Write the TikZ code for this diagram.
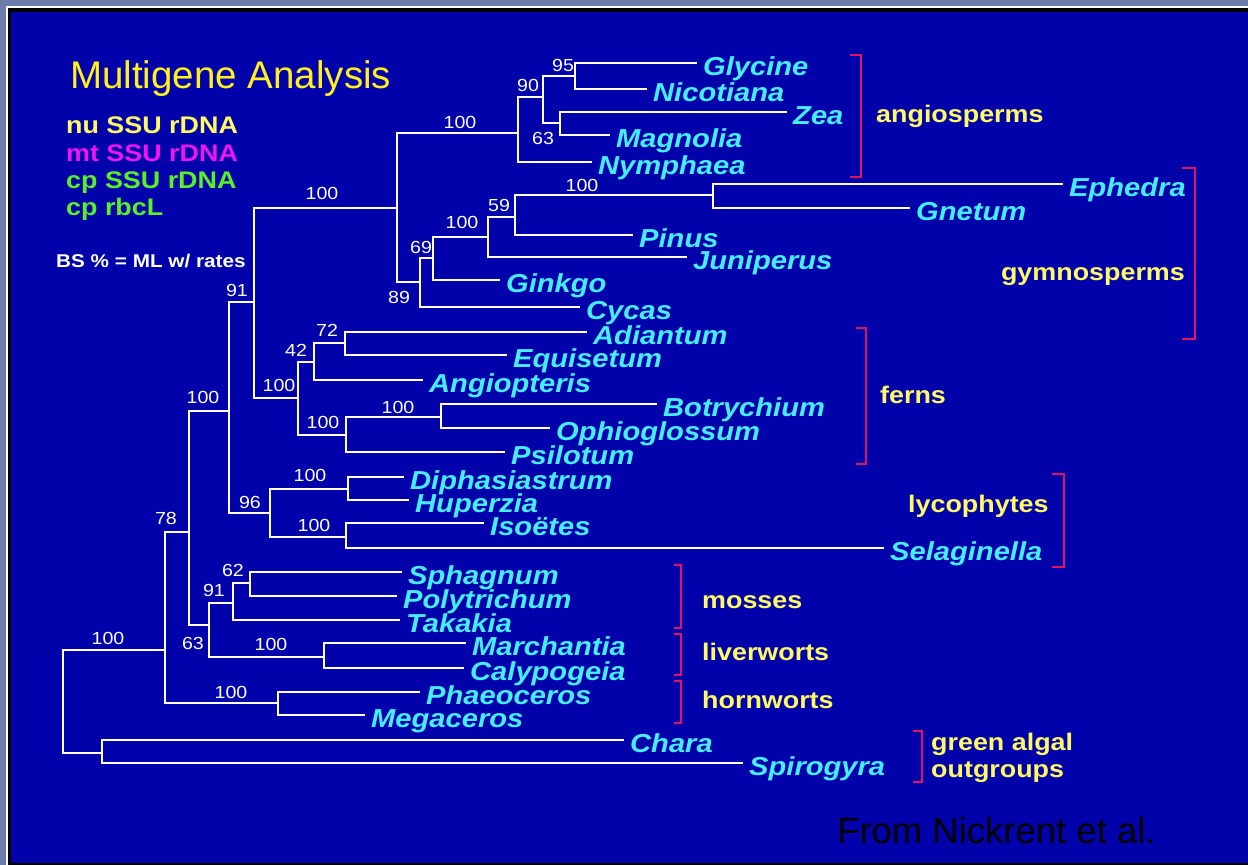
\documentclass[tikz,border=0pt]{standalone}
\usepackage{fontspec}
\setmainfont{Liberation Sans}
\newfontfamily\hv[FakeStretch=1.12]{Liberation Sans}
\definecolor{bgblue}{RGB}{2,2,170}
\definecolor{frameblue}{RGB}{108,124,172}
\definecolor{taxcyan}{RGB}{70,236,255}
\definecolor{grpyellow}{RGB}{255,250,100}
\definecolor{titleyellow}{RGB}{255,240,30}
\definecolor{mtmag}{RGB}{240,20,240}
\definecolor{cpgreen}{RGB}{90,240,40}
\definecolor{brred}{RGB}{225,20,95}
\begin{document}
\begin{tikzpicture}[x=1pt,y=-1pt,
  branch/.style={draw=white,line width=2.7pt},
  bracket/.style={draw=brred,line width=2.6pt},
  taxon/.style={anchor=west,inner xsep=6pt,inner ysep=0pt,text height=24pt,text depth=0pt,text=taxcyan,font=\hv\fontsize{26}{26}\selectfont\bfseries\itshape},
  bs/.style={inner sep=0pt,text=white,font=\hv\fontsize{17.5}{17.5}\selectfont},
  grp/.style={anchor=base west,inner sep=0pt,text=grpyellow,font=\hv\fontsize{24}{24}\selectfont\bfseries},
  leg/.style={anchor=base west,inner sep=0pt,font=\hv\fontsize{24}{24}\selectfont\bfseries},
]
\useasboundingbox (0,0) rectangle (1248,865);
% frame
\fill[frameblue] (0,0) rectangle (1248,865);
\fill[white] (6,6) rectangle (1248,865);
\fill[black] (8,8) rectangle (1248,865);
\fill[bgblue] (11,12) rectangle (1248,863);

% title and legend
\node[anchor=base west,inner sep=0pt,text=titleyellow,font=\fontsize{38.5}{38.5}\selectfont] (title) at (70,88) {Multigene Analysis};
\node[leg,text=grpyellow] (nu) at (66,133) {nu SSU rDNA};
\node[leg,text=mtmag] (mt) at (66,161) {mt SSU rDNA};
\node[leg,text=cpgreen] (cpssu) at (66,188) {cp SSU rDNA};
\node[leg,text=cpgreen] (cprbcl) at (66,215) {cp rbcL};
\node[anchor=base west,inner sep=0pt,text=white,font=\hv\fontsize{18.5}{18.5}\selectfont\bfseries] (bsnote) at (56,267) {BS \% = ML w/ rates};

% internal nodes
\coordinate (R) at (63,700);
\coordinate (LP) at (165,650);
\coordinate (ALG) at (102,753);
\coordinate (N78) at (189,532);
\coordinate (HRN) at (278,703);
\coordinate (N100a) at (229,411);
\coordinate (N63) at (209,625);
\coordinate (N91) at (254,302);
\coordinate (N96) at (270,513);
\coordinate (SP) at (397,208);
\coordinate (FERN) at (298,398);
\coordinate (ANG) at (518,133);
\coordinate (GYM) at (420,282);
\coordinate (A90) at (543,97);
\coordinate (A95) at (575,76);
\coordinate (A63) at (560,123);
\coordinate (G69) at (433,258);
\coordinate (G100) at (488,237);
\coordinate (G59) at (515,217);
\coordinate (GN) at (713,195);
\coordinate (F42) at (314,362);
\coordinate (F72) at (345,343);
\coordinate (F100) at (346,435);
\coordinate (F100b) at (441,417);
\coordinate (L100a) at (348,489);
\coordinate (L100b) at (346,537);
\coordinate (M91) at (233,603);
\coordinate (M62) at (250,583);
\coordinate (LIV) at (324,657);

% leaves
\node[taxon] (glycine) at (697,63) {Glycine};
\node[taxon] (nicotiana) at (647,89) {Nicotiana};
\node[taxon] (zea) at (787,112) {Zea};
\node[taxon] (magnolia) at (610,135) {Magnolia};
\node[taxon] (nymphaea) at (592,162) {Nymphaea};
\node[taxon] (ephedra) at (1063,184) {Ephedra};
\node[taxon] (gnetum) at (910,208) {Gnetum};
\node[taxon] (pinus) at (633,235) {Pinus};
\node[taxon] (juniperus) at (687,257) {Juniperus};
\node[taxon] (ginkgo) at (500,280) {Ginkgo};
\node[taxon] (cycas) at (580,307) {Cycas};
\node[taxon] (adiantum) at (587,332) {Adiantum};
\node[taxon] (equisetum) at (507,355) {Equisetum};
\node[taxon] (angiopteris) at (423,380) {Angiopteris};
\node[taxon] (botrychium) at (657,404) {Botrychium};
\node[taxon] (ophioglossum) at (550,428) {Ophioglossum};
\node[taxon] (psilotum) at (505,452) {Psilotum};
\node[taxon] (diphasiastrum) at (404,477) {Diphasiastrum};
\node[taxon] (huperzia) at (409,500) {Huperzia};
\node[taxon] (isoetes) at (484,523) {Isoëtes};
\node[taxon] (selaginella) at (884,548) {Selaginella};
\node[taxon] (sphagnum) at (402,572) {Sphagnum};
\node[taxon] (polytrichum) at (397,596) {Polytrichum};
\node[taxon] (takakia) at (400,620) {Takakia};
\node[taxon] (marchantia) at (466,643) {Marchantia};
\node[taxon] (calypogeia) at (464,668) {Calypogeia};
\node[taxon] (phaeoceros) at (420,692) {Phaeoceros};
\node[taxon] (megaceros) at (365,715) {Megaceros};
\node[taxon] (chara) at (624,740) {Chara};
\node[taxon] (spirogyra) at (743,763) {Spirogyra};

% branches
\foreach \p/\c in {R/LP, R/ALG, ALG/chara.west, ALG/spirogyra.west,
  LP/N78, LP/HRN, HRN/phaeoceros.west, HRN/megaceros.west,
  N78/N100a, N78/N63, N63/M91, N63/LIV,
  LIV/marchantia.west, LIV/calypogeia.west,
  M91/M62, M91/takakia.west, M62/sphagnum.west, M62/polytrichum.west,
  N100a/N91, N100a/N96, N96/L100a, N96/L100b,
  L100a/diphasiastrum.west, L100a/huperzia.west,
  L100b/isoetes.west, L100b/selaginella.west,
  N91/SP, N91/FERN, FERN/F42, FERN/F100,
  F42/F72, F42/angiopteris.west, F72/adiantum.west, F72/equisetum.west,
  F100/F100b, F100/psilotum.west, F100b/botrychium.west, F100b/ophioglossum.west,
  SP/ANG, SP/GYM, ANG/A90, ANG/nymphaea.west, A90/A95, A90/A63,
  A95/glycine.west, A95/nicotiana.west, A63/zea.west, A63/magnolia.west,
  GYM/G69, GYM/cycas.west, G69/G100, G69/ginkgo.west,
  G100/G59, G100/juniperus.west, G59/GN, G59/pinus.west,
  GN/ephedra.west, GN/gnetum.west}
  \draw[branch] (\p) |- (\c);

% bootstrap values
\node[bs] (bLP) at (108,638) {100};
\node[bs] (b78) at (166,518) {78};
\node[bs] (bN100a) at (203,397) {100};
\node[bs] (b91) at (237,290) {91};
\node[bs] (bSP) at (322,193) {100};
\node[bs] (bANG) at (460,122) {100};
\node[bs] (b90) at (528,85) {90};
\node[bs] (b95) at (563,65) {95};
\node[bs] (b63a) at (543,138) {63};
\node[bs] (b89) at (399,297) {89};
\node[bs] (b69) at (421,247) {69};
\node[bs] (bG100) at (462,222) {100};
\node[bs] (b59) at (499,205) {59};
\node[bs] (bGN) at (582,185) {100};
\node[bs] (bFERN) at (279,385) {100};
\node[bs] (b42) at (296,350) {42};
\node[bs] (b72) at (327,330) {72};
\node[bs] (bF100) at (323,422) {100};
\node[bs] (bF100b) at (398,407) {100};
\node[bs] (b96) at (250,502) {96};
\node[bs] (bL100a) at (310,475) {100};
\node[bs] (bL100b) at (314,525) {100};
\node[bs] (b63b) at (193,643) {63};
\node[bs] (b91b) at (214,590) {91};
\node[bs] (b62) at (233,570) {62};
\node[bs] (bLIV) at (271,644) {100};
\node[bs] (bHRN) at (231,692) {100};

% brackets
\draw[bracket] (850,55) -- (861,55) -- (861,177) -- (850,177);
\draw[bracket] (1182,168) -- (1195,168) -- (1195,339) -- (1182,339);
\draw[bracket] (856,328) -- (866,328) -- (866,464) -- (856,464);
\draw[bracket] (1052,474) -- (1064,474) -- (1064,567) -- (1052,567);
\draw[bracket] (674,565) -- (681,565) -- (681,628) -- (674,628);
\draw[bracket] (674,634) -- (681,634) -- (681,675) -- (674,675);
\draw[bracket] (674,681) -- (681,681) -- (681,723) -- (674,723);
\draw[bracket] (913,731) -- (922,731) -- (922,782) -- (913,782);

% group labels
\node[grp] (gangio) at (876,122) {angiosperms};
\node[grp,anchor=base east] (ggymno) at (1185,280) {gymnosperms};
\node[grp] (gferns) at (880,403) {ferns};
\node[grp] (glyco) at (908,512) {lycophytes};
\node[grp] (gmoss) at (702,608) {mosses};
\node[grp] (gliver) at (702,660) {liverworts};
\node[grp] (ghorn) at (702,708) {hornworts};
\node[grp] (galg1) at (931,750) {green algal};
\node[grp] (galg2) at (931,777) {outgroups};

\node[anchor=base west,inner sep=0pt,text=black,font=\fontsize{36.5}{36.5}\selectfont] (credit) at (837,843) {From Nickrent et al.};
\end{tikzpicture}
\end{document}
